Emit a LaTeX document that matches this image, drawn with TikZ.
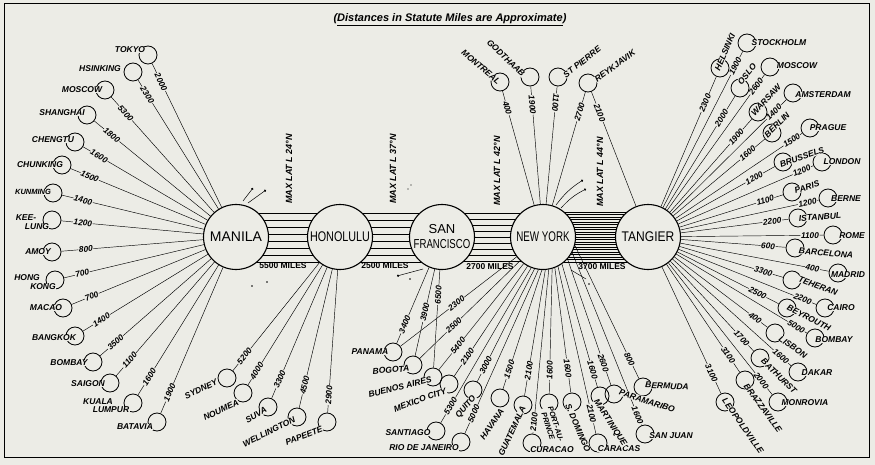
\documentclass[tikz,border=0pt]{standalone}
\usepackage{fontspec}
\setmainfont{Liberation Sans}
\usetikzlibrary{calc,arrows.meta}
\definecolor{bg}{RGB}{236,236,230}
\tikzset{
 hub/.style={circle, draw, line width=1.1pt, fill=bg, minimum size=65pt, inner sep=0pt, align=center, font=\fontsize{14}{15}\selectfont},
 cc/.style={circle, draw, line width=0.8pt, minimum size=18pt, inner sep=0pt},
 spoke/.style={line width=0.45pt},
 dist/.style={fill=bg, inner sep=0.6pt, font=\bfseries\itshape\fontsize{8.3}{9}\selectfont},
 lbl/.style={fill=bg, inner sep=0.4pt, align=center, font=\bfseries\itshape\fontsize{8.5}{9}\selectfont},
 band/.style={line width=0.8pt},
 deco/.style={line width=0.5pt},
 dot/.style={-{Circle[length=2.2pt]}},
 maxlat/.style={rotate=90, font=\bfseries\itshape\fontsize{9}{9}\selectfont},
 miles/.style={font=\bfseries\fontsize{8.5}{9}\selectfont},
}
\newcommand\cty[3]{\node[cc] (#1) at (#2,#3) {};}
\newcommand\spk[5][]{\draw[spoke] (#2) -- ($(#2)!#4pt!(#3)$) node[pos=1,sloped,dist,#1]{#5} -- (#3);}
\begin{document}
\begin{tikzpicture}[x=1pt,y=-1pt]
\fill[bg] (0,0) rectangle (875,465);
\useasboundingbox (0,0) rectangle (875,465);
\draw[line width=1pt] (4,4) rectangle (869,457);
\node[font=\bfseries\itshape\fontsize{11}{12}\selectfont] (title) at (450,20) {(\underline{Distances in Statute Miles are Approximate})};

% bands
\foreach \y in {213,220,...,262} \draw[band] (236,\y) -- (340,\y);
\foreach \y in {213,220,...,262} \draw[band] (340,\y) -- (442,\y);
\foreach \y in {213,219,...,261} \draw[band] (442,\y) -- (543,\y);
\foreach \y in {212,214.5,...,262.5} \draw[band] (543,\y) -- (648,\y);

% hubs
\node[hub] (manila) at (236,237) {MANILA};
\node[hub] (honolulu) at (340,237) {\scalebox{0.77}[1]{HONOLULU}};
\node[hub, font=\fontsize{13}{15}\selectfont] (sf) at (442,237) {SAN\\\scalebox{0.74}[1]{FRANCISCO}};
\node[hub] (ny) at (543,237) {\scalebox{0.7}[1]{NEW YORK}};
\node[hub] (tangier) at (648,237) {\scalebox{0.86}[1]{TANGIER}};

\node[miles] (m1) at (283,266) {5500 MILES};
\node[miles] (m2) at (385,266) {2500 MILES};
\node[miles] (m3) at (490,267) {2700 MILES};
\node[miles] (m4) at (602,267) {3700 MILES};
\node[maxlat] (l1) at (289,169) {MAX LAT L 24°N};
\node[maxlat] (l2) at (393,169) {MAX LAT L 37°N};
\node[maxlat] (l3) at (497,171) {MAX LAT L 42°N};
\node[maxlat] (l4) at (600,172) {MAX LAT L 44°N};

% small route marks
\coordinate (d1a) at (243,201); \coordinate (d1b) at (253,188);
\coordinate (d2a) at (248,203); \coordinate (d2b) at (266,190);
\draw[deco,dot] (d1a) -- (d1b);
\draw[deco,dot] (d2a) -- (d2b);
\coordinate (d3a) at (556,205); \coordinate (d3b) at (583,180);
\coordinate (d4a) at (561,208); \coordinate (d4b) at (586,189);
\draw[deco,dot] (d3a) to[bend left=10] (d3b);
\draw[deco,dot] (d4a) to[bend left=10] (d4b);
\coordinate (d5a) at (423,269); \coordinate (d5b) at (397,276);
\draw[deco,dot] (d5a) -- (d5b);
\coordinate (d6a) at (571,270); \coordinate (d6b) at (586,279);
\draw[deco] (d6a) -- (d6b);
\fill (252,286) circle (0.9pt) (267,282) circle (0.9pt) (410,279) circle (0.9pt) (589,284) circle (0.9pt) (408,189) circle (0.7pt) (411,185) circle (0.7pt);

% ---- MANILA spokes
\cty{tokyo}{148}{55} \spk{tokyo}{manila}{30}{2000}
\cty{hsinking}{133}{72} \spk{hsinking}{manila}{27}{2300}
\cty{mmoscow}{105}{90} \spk{mmoscow}{manila}{31}{5300}
\cty{shanghai}{87}{115} \spk{shanghai}{manila}{32}{1800}
\cty{chengtu}{75}{142} \spk{chengtu}{manila}{28}{1600}
\cty{chunking}{62}{165} \spk{chunking}{manila}{30}{1500}
\cty{kunming}{53}{193} \spk{kunming}{manila}{31}{1400}
\cty{keelung}{52}{220} \spk{keelung}{manila}{31}{1200}
\cty{amoy}{52}{252} \spk{amoy}{manila}{34}{800}
\cty{hongkong}{55}{280} \spk{hongkong}{manila}{28}{700}
\cty{macao}{63}{308} \spk{macao}{manila}{31}{700}
\cty{bangkok}{75}{336} \spk{bangkok}{manila}{31}{1400}
\cty{mbombay}{93}{362} \spk{mbombay}{manila}{30}{3500}
\cty{saigon}{110}{383} \spk{saigon}{manila}{30}{1100}
\cty{kuala}{133}{403} \spk{kuala}{manila}{31}{1600}
\cty{batavia}{157}{422} \spk{batavia}{manila}{32}{1900}

% ---- HONOLULU spokes
\cty{sydney}{227}{378} \spk{sydney}{honolulu}{28}{5200}
\cty{noumea}{243}{393} \spk{noumea}{honolulu}{26}{4000}
\cty{suva}{268}{407} \spk{suva}{honolulu}{30}{3300}
\cty{wellington}{297}{417} \spk{wellington}{honolulu}{33}{4500}
\cty{papeete}{327}{422} \spk{papeete}{honolulu}{27}{2900}

% ---- SAN FRANCISCO / NEW YORK south
\cty{panama}{393}{352} \spk{panama}{sf}{30}{3400}
\cty{bogota}{413}{365} \spk{bogota}{sf}{54}{3900}
\cty{buenos}{433}{377} \spk{buenos}{sf}{82}{6500}
\spk{panama}{ny.-143}{80}{2300}
\spk{bogota}{ny.-134}{57}{2500}
\spk{buenos}{ny.-126}{40}{5400}
\cty{mexico}{449}{384} \spk{mexico}{ny.-118.5}{33}{2100}
\cty{santiago}{436}{431} \spk{santiago}{ny.-111.7}{29}{5300}
\cty{quito}{473}{390} \spk{quito}{ny.-105.2}{28}{3000}
\cty{rio}{461}{442} \spk{rio}{ny.-98.8}{31}{5000}
\cty{havana}{500}{398} \spk{havana}{ny.-92.6}{30}{1500}
\cty{guatemala}{523}{405} \spk{guatemala}{ny.-86.5}{35}{2100}
\cty{curacao}{532}{443} \spk{curacao}{ny.-80.2}{21}{2100}
\cty{portau}{549}{403} \spk{portau}{ny.-74}{33}{1600}
\cty{sdomingo}{572}{402} \spk{sdomingo}{ny.-69}{34}{1600}
\cty{caracas}{598}{443} \spk{caracas}{ny.-63}{30}{2100}
\cty{martinique}{600}{396} \spk{martinique}{ny.-55}{27}{1600}
\cty{paramaribo}{614}{394} \spk{paramaribo}{ny.-42}{33}{2600}
\cty{sanjuan}{645}{434} \spk{sanjuan}{ny.-28}{20}{1600}
\cty{bermuda}{643}{387} \spk{bermuda}{ny.-15}{31}{800}

% ---- NEW YORK north
\cty{montreal}{500}{82} \spk{montreal}{ny}{27}{400}
\cty{godthaab}{530}{77} \spk{godthaab}{ny}{28}{1900}
\cty{stpierre}{558}{77} \spk[allow upside down]{stpierre}{ny}{26}{1100}
\cty{reykjavik}{588}{83} \spk{reykjavik}{ny}{30}{2700}
\spk{reykjavik}{tangier}{32}{2100}

% ---- TANGIER spokes
\cty{stockholm}{747}{43} \spk{stockholm}{tangier}{26}{1900}
\cty{helsinki}{720}{68} \spk{helsinki}{tangier}{38}{2300}
\cty{tmoscow}{770}{67} \spk{tmoscow}{tangier}{24}{2600}
\cty{oslo}{740}{88} \spk{oslo}{tangier}{35}{2000}
\cty{amsterdam}{793}{93} \spk{amsterdam}{tangier}{27}{1400}
\cty{warsaw}{758}{112} \spk{warsaw}{tangier}{33}{1900}
\cty{prague}{810}{128} \spk{prague}{tangier}{22}{1500}
\cty{berlin}{772}{133} \spk{berlin}{tangier}{32}{1600}
\cty{london}{822}{162} \spk{london}{tangier}{22}{1200}
\cty{brussels}{783}{162} \spk{brussels}{tangier}{33}{1200}
\cty{berne}{828}{198} \spk{berne}{tangier}{21}{1200}
\cty{paris}{792}{192} \spk{paris}{tangier}{28}{1100}
\cty{istanbul}{798}{218} \spk{istanbul}{tangier}{26}{2200}
\cty{rome}{833}{235} \spk{rome}{tangier}{23}{1100}
\cty{barcelona}{795}{248} \spk{barcelona}{tangier}{27}{600}
\cty{madrid}{838}{273} \spk{madrid}{tangier}{26}{400}
\cty{teheran}{792}{280} \spk{teheran}{tangier}{30}{3300}
\cty{cairo}{825}{308} \spk{cairo}{tangier}{24}{2200}
\cty{beyrouth}{787}{308} \spk{beyrouth}{tangier}{33}{2500}
\cty{tbombay}{815}{338} \spk{tbombay}{tangier}{22}{5000}
\cty{lisbon}{775}{333} \spk{lisbon}{tangier}{25}{400}
\cty{dakar}{798}{372} \spk{dakar}{tangier}{23}{1600}
\cty{bathurst}{760}{358} \spk{bathurst}{tangier}{27}{1700}
\cty{monrovia}{778}{402} \spk{monrovia}{tangier}{27}{2000}
\cty{brazzaville}{745}{380} \spk{brazzaville}{tangier}{30}{3100}
\cty{leopoldville}{725}{402} \spk{leopoldville}{tangier}{32}{3100}

% ---- city labels
\node[lbl] (t-tokyo) at (130,50) {TOKYO};
\node[lbl] (t-hsinking) at (100,69) {HSINKING};
\node[lbl] (t-mmoscow) at (82,90) {MOSCOW};
\node[lbl] (t-shanghai) at (62,113) {SHANGHAI};
\node[lbl] (t-chengtu) at (53,140) {CHENGTU};
\node[lbl] (t-chunking) at (40,165) {CHUNKING};
\node[lbl, font=\bfseries\itshape\fontsize{7.5}{8}\selectfont] (t-kunming) at (33,192) {KUNMING};
\node[lbl] (t-kee) at (26,218) {KEE-};
\node[lbl] (t-lung) at (37,227) {LUNG};
\node[lbl] (t-amoy) at (38,252) {AMOY};
\node[lbl] (t-hong) at (27,278) {HONG};
\node[lbl] (t-kong) at (43,287) {KONG};
\node[lbl] (t-macao) at (46,308) {MACAO};
\node[lbl] (t-bangkok) at (54,338) {BANGKOK};
\node[lbl] (t-mbombay) at (69,363) {BOMBAY};
\node[lbl] (t-saigon) at (88,384) {SAIGON};
\node[lbl] (t-kuala) at (98,402) {KUALA};
\node[lbl] (t-lumpur) at (111,410) {LUMPUR};
\node[lbl] (t-batavia) at (135,427) {BATAVIA};

\node[lbl, rotate=25] (t-sydney) at (201,389) {SYDNEY};
\node[lbl, rotate=25] (t-noumea) at (221,410) {NOUMEA};
\node[lbl, rotate=30] (t-suva) at (256,415) {SUVA};
\node[lbl, rotate=26] (t-wellington) at (269,432) {WELLINGTON};
\node[lbl, rotate=21] (t-papeete) at (304,436) {PAPEETE};

\node[lbl] (t-panama) at (370,352) {PANAMA};
\node[lbl, rotate=5] (t-bogota) at (391,370) {BOGOTA};
\node[lbl, rotate=14] (t-buenos) at (400,387) {BUENOS AIRES};
\node[lbl, rotate=20] (t-mexico) at (420,400) {MEXICO CITY};
\node[lbl] (t-santiago) at (408,433) {SANTIAGO};
\node[lbl] (t-rio) at (424,448) {RIO DE JANEIRO};
\node[lbl, rotate=50] (t-quito) at (466,407) {QUITO};
\node[lbl, rotate=55] (t-havana) at (492,424) {HAVANA};
\node[lbl, rotate=65] (t-guatemala) at (512,431) {GUATEMALA};
\node[lbl] (t-curacao) at (552,450) {CURACAO};
\node[lbl, rotate=-72, font=\bfseries\itshape\fontsize{7.5}{8}\selectfont] (t-portau) at (552,425) {PORT-AU-\\PRINCE};
\node[lbl, rotate=-67] (t-sdomingo) at (578,428) {S. DOMINGO};
\node[lbl] (t-caracas) at (619,449) {CARACAS};
\node[lbl, rotate=-57] (t-martinique) at (610,423) {MARTINIQUE};
\node[lbl, rotate=-18] (t-paramaribo) at (647,401) {PARAMARIBO};
\node[lbl] (t-sanjuan) at (671,436) {SAN JUAN};
\node[lbl, rotate=-3] (t-bermuda) at (667,386) {BERMUDA};

\node[lbl, rotate=-41] (t-montreal) at (481,67) {MONTREAL};
\node[lbl, rotate=-44] (t-godthaab) at (506,58) {GODTHAAB};
\node[lbl, rotate=38] (t-stpierre) at (582,62) {ST PIERRE};
\node[lbl, rotate=36] (t-reykjavik) at (615,66) {REYKJAVIK};

\node[lbl] (t-stockholm) at (779,43) {STOCKHOLM};
\node[lbl, rotate=67] (t-helsinki) at (725,52) {HELSINKI};
\node[lbl] (t-tmoscow) at (797,66) {MOSCOW};
\node[lbl, rotate=50] (t-oslo) at (747,74) {OSLO};
\node[lbl] (t-amsterdam) at (823,95) {AMSTERDAM};
\node[lbl, rotate=47] (t-warsaw) at (766,100) {WARSAW};
\node[lbl] (t-prague) at (828,128) {PRAGUE};
\node[lbl, rotate=45] (t-berlin) at (777,125) {BERLIN};
\node[lbl] (t-london) at (842,162) {LONDON};
\node[lbl, rotate=19] (t-brussels) at (802,157) {BRUSSELS};
\node[lbl] (t-berne) at (846,199) {BERNE};
\node[lbl, rotate=17] (t-paris) at (807,187) {PARIS};
\node[lbl, rotate=4] (t-istanbul) at (820,217) {ISTANBUL};
\node[lbl] (t-rome) at (852,236) {ROME};
\node[lbl, rotate=-5] (t-barcelona) at (826,253) {BARCELONA};
\node[lbl] (t-madrid) at (848,275) {MADRID};
\node[lbl, rotate=-21] (t-teheran) at (818,286) {TEHERAN};
\node[lbl] (t-cairo) at (841,308) {CAIRO};
\node[lbl, rotate=-27] (t-beyrouth) at (809,318) {BEYROUTH};
\node[lbl] (t-tbombay) at (834,340) {BOMBAY};
\node[lbl, rotate=-35] (t-lisbon) at (793,347) {LISBON};
\node[lbl] (t-dakar) at (817,373) {DAKAR};
\node[lbl, rotate=-45] (t-bathurst) at (779,376) {BATHURST};
\node[lbl] (t-monrovia) at (805,403) {MONROVIA};
\node[lbl, rotate=-54] (t-brazzaville) at (763,408) {BRAZZAVILLE};
\node[lbl, rotate=-55] (t-leopoldville) at (743,426) {LEOPOLDVILLE};
\end{tikzpicture}
\end{document}
